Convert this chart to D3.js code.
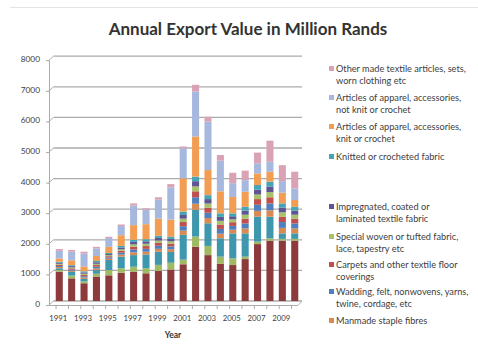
<!DOCTYPE html>
<html><head><meta charset="utf-8">
<script src="https://cdn.jsdelivr.net/npm/d3@7"></script>
<style>
body{margin:0;background:#fff}
svg{display:block}
text{font-family:Lato,"Open Sans","Liberation Sans",sans-serif}
</style>
</head><body>
<svg id="chart" width="478" height="352"></svg>
<script>
// ---------- DATA (million Rand) ----------
const years = ["1991","1992","1993","1994","1995","1996","1997","1998","1999","2000",
               "2001","2002","2003","2004","2005","2006","2007","2008","2009","2010"];
const yTickValues = [0,1000,2000,3000,4000,5000,6000,7000,8000];
const xTickLabels = ["1991","1993","1995","1997","1999","2001","2003","2005","2007","2009"];

// stacked bottom -> top (lower three series are clipped from the legend in the original)
const wool           = [960,740,580,800,840,925,960,905,980,1030,1200,1775,1500,1215,1175,1370,1860,1970,1970,1970];
const cotton         = [50,90,60,90,170,145,160,165,200,220,150,330,300,235,220,80,80,80,60,60];
const filaments      = [60,120,80,120,330,380,380,450,430,350,810,875,740,600,815,760,815,705,180,180];
const staple         = [40,40,45,55,40,65,90,90,95,90,140,200,170,150,120,160,190,210,180,160];
const wadding        = [35,40,45,55,45,65,95,95,100,95,145,210,175,155,125,165,200,220,190,165];
const carpets        = [40,40,45,55,40,60,90,90,95,90,135,195,165,145,120,155,185,205,175,155];
const specialWoven   = [30,30,35,40,35,50,75,75,75,75,110,160,135,120,95,130,150,170,145,130];
const impregnated    = [35,40,45,50,35,60,80,80,85,80,120,170,145,130,100,135,160,180,150,135];
const knitted        = [30,30,35,45,35,50,70,70,70,70,110,150,130,115,95,125,150,160,140,125];
const apparelKnit    = [110,160,160,160,200,350,480,490,560,560,1090,1310,820,720,535,490,380,325,350,220];
const apparelNotKnit = [250,280,420,250,290,300,640,470,620,1050,980,1470,1580,1000,450,380,330,325,380,380];
const otherMade      = [60,60,60,50,40,50,70,50,80,110,60,220,160,185,340,310,350,690,520,545];

const seriesKeys = ["wool","cotton","filaments","staple","wadding","carpets","specialWoven",
                    "impregnated","knitted","apparelKnit","apparelNotKnit","otherMade"];
const seriesValues = {wool,cotton,filaments,staple,wadding,carpets,specialWoven,
                      impregnated,knitted,apparelKnit,apparelNotKnit,otherMade};

// legend (top entry first, as in the original)
const legendKeys = ["otherMade","apparelNotKnit","apparelKnit","knitted","impregnated",
                    "specialWoven","carpets","wadding","staple"];
const legendLabels = [
  ["Other made textile articles, sets,","worn clothing etc"],
  ["Articles of apparel, accessories,","not knit or crochet"],
  ["Articles of apparel, accessories,","knit or crochet"],
  ["Knitted or crocheted fabric"],
  ["Impregnated, coated or","laminated textile fabric"],
  ["Special woven or tufted fabric,","lace, tapestry etc"],
  ["Carpets and other textile floor","coverings"],
  ["Wadding, felt, nonwovens, yarns,","twine, cordage, etc"],
  ["Manmade staple fibres"]
];

// ---------- STYLE ----------
const colors = {
  wool:"#8d3a3c", cotton:"#9fba62", filaments:"#3e97ad", staple:"#d88a52",
  wadding:"#4f7fbd", carpets:"#c0504d", specialWoven:"#a6c26a", impregnated:"#5f5592",
  knitted:"#45a5b5", apparelKnit:"#f29d52", apparelNotKnit:"#a7b8de", otherMade:"#d9a3b5"
};
const legendY = [69,98,127,157,207,237,265,292,321];

const svg = d3.select("#chart");
const table = years.map((y,i) => {
  const row = {year:y};
  seriesKeys.forEach(k => row[k] = seriesValues[k][i]);
  return row;
});

const x = d3.scaleBand().domain(years).range([53,301]).paddingInner(0.43).paddingOuter(0.22);
const y = d3.scaleLinear().domain([0,8000]).range([301,56.2]);

// top border line
svg.append("line").attr("x1",10).attr("x2",478).attr("y1",7.5).attr("y2",7.5)
   .attr("stroke","#e4e4e4").attr("stroke-width",1);

// title
svg.append("text").attr("x",248).attr("y",35).attr("text-anchor","middle")
   .attr("font-size",17).attr("font-weight","bold").attr("fill","#333")
   .text("Annual Export Value in Million Rands");

// gridlines with 3-D side-wall slant
const grid = svg.append("g");
yTickValues.forEach(v => {
  const gy = y(v);
  grid.append("line").attr("x1",53.5).attr("x2",302).attr("y1",gy).attr("y2",gy)
      .attr("stroke","#ababab").attr("stroke-width",1.3);
  grid.append("line").attr("x1",48.5).attr("x2",53.5).attr("y1",gy+4.5).attr("y2",gy)
      .attr("stroke","#ababab").attr("stroke-width",1);
  grid.append("line").attr("x1",46).attr("x2",49.5).attr("y1",gy+4.5).attr("y2",gy+4.5)
      .attr("stroke","#ababab").attr("stroke-width",1);
});
// y axis line
svg.append("line").attr("x1",49.5).attr("x2",49.5).attr("y1",y(8000)+4.5).attr("y2",y(0)+4.5)
   .attr("stroke","#ababab").attr("stroke-width",1);
// floor front line
svg.append("line").attr("x1",49.5).attr("x2",298).attr("y1",y(0)+4.5).attr("y2",y(0)+4.5)
   .attr("stroke","#ababab").attr("stroke-width",1);
svg.append("line").attr("x1",298).attr("x2",302).attr("y1",y(0)+4.5).attr("y2",y(0))
   .attr("stroke","#ababab").attr("stroke-width",1);
// x ticks
years.forEach(yr => {
  const tx = x(yr) - x.step()*x.paddingInner()/2 + 3;
  svg.append("line").attr("x1",tx).attr("x2",tx).attr("y1",y(0)+4.5).attr("y2",y(0)+8)
     .attr("stroke","#ababab").attr("stroke-width",1);
});

// y tick labels
svg.append("g").selectAll("text").data(yTickValues).join("text")
   .attr("x",40).attr("y",v => y(v)+3).attr("dy","0.35em").attr("text-anchor","end")
   .attr("font-size",8.3).attr("fill","#404040").text(v => v);

// x tick labels
svg.append("g").selectAll("text").data(xTickLabels).join("text")
   .attr("x",d => x(d)+x.bandwidth()/2-1).attr("y",318).attr("dy","0.35em")
   .attr("text-anchor","middle").attr("font-size",7.8).attr("fill","#404040").text(d => d);

// axis title
svg.append("text").attr("x",173).attr("y",335).attr("dy","0.35em").attr("text-anchor","middle")
   .attr("font-size",8.5).attr("font-weight","bold").attr("fill","#333").text("Year");

// stacked bars
const stack = d3.stack().keys(seriesKeys)(table);
svg.append("g").selectAll("g").data(stack).join("g")
   .attr("fill",s => colors[s.key])
   .selectAll("rect").data(s => s).join("rect")
   .attr("x",d => x(d.data.year)).attr("width",x.bandwidth())
   .attr("y",d => y(d[1])).attr("height",d => y(d[0]) - y(d[1]));

// legend
const lg = svg.append("g");
legendKeys.forEach((k,i) => {
  const ly = legendY[i];
  lg.append("rect").attr("x",329).attr("y",ly-3).attr("width",5).attr("height",5)
    .attr("fill",colors[k]);
  legendLabels[i].forEach((line,j) => {
    lg.append("text").attr("x",336).attr("y",ly + j*12).attr("dy","0.35em")
      .attr("font-size",9.2).attr("fill","#404040").text(line);
  });
});
</script>
</body></html>
